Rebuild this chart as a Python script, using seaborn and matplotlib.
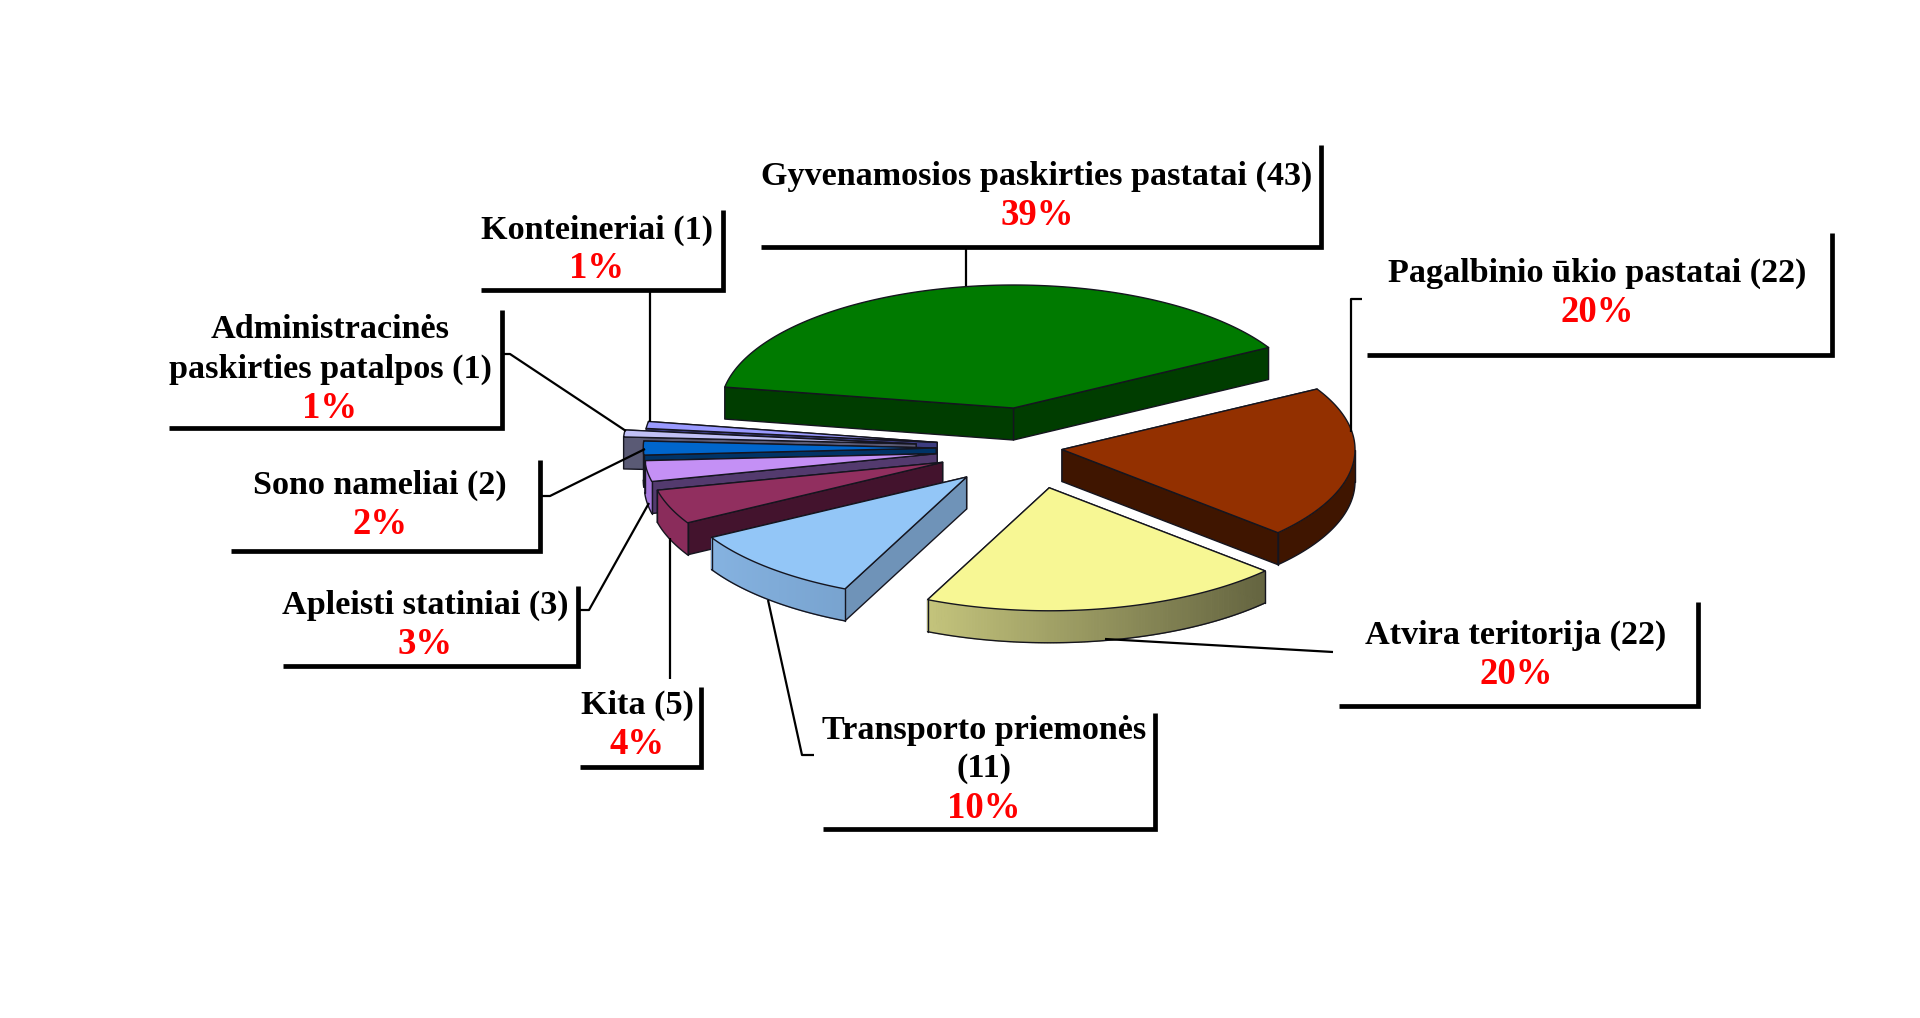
import numpy as np
import matplotlib
matplotlib.use("Agg")
import matplotlib.pyplot as plt
from matplotlib.patches import Polygon
from matplotlib.colors import to_rgb
import seaborn as sns

# ---- data ----
categories = ["Gyvenamosios paskirties pastatai (43)", "Pagalbinio ūkio pastatai (22)",
              "Atvira teritorija (22)", "Transporto priemonės\n(11)", "Kita (5)",
              "Apleisti statiniai (3)", "Sono nameliai (2)",
              "Administracinės\npaskirties patalpos (1)", "Konteineriai (1)"]
counts = [43, 22, 22, 11, 5, 3, 2, 1, 1]
percents = [39, 20, 20, 10, 4, 3, 2, 1, 1]
explode = [0.33, 0.11, 0.33, 0.32, 0.32, 0.32, 0.32, 0.39, 0.32]

# ---- styles ----
top_colors = ["#007a00", "#933000", "#f7f794", "#93c6f7", "#912f5f", "#c490f5", "#0066cc", "#c0c0f5", "#9a9aff"]
side_colors = ["#003d00", "#3f1500", "#7a7a45", "#6f93b8", "#43132d", "#533a6e", "#003366", "#5a5a75", "#3c3c80"]
rim_left = ["#003d00", "#3f1500", "#c4c47c", "#85b2e0", "#8a2c5b", "#a578dc", "#0066cc", "#5a5a75", "#3c3c80"]
rim_right = ["#003d00", "#3f1500", "#646440", "#78a3cf", "#8a2c5b", "#a578dc", "#0066cc", "#5a5a75", "#3c3c80"]
draw_order = [0, 8, 7, 6, 5, 4, 3, 1, 2]

# ---- layout in figure pixels ----
CX, CY, RX, RY, DEPTH, START = 1030, 448, 293, 123, 32, 170.2
label_boxes = [(761, 1321, 145, 247), (1367, 1832, 233, 355), (1339, 1698, 602, 706),
               (823, 1155, 713, 829), (580, 701, 687, 767), (283, 578, 586, 666),
               (231, 540, 460, 551), (169, 502, 310, 428), (481, 723, 210, 290)]
label_text_x = [1037, 1597, 1516, 984, 637, 425, 380, 330, 597]
label_text_y = [176, 273, 635, 730, 705, 605, 485, 330, 230]
leaders = [[(966, 248), (966, 286)],
           [(1362, 299), (1351, 299), (1351, 432)],
           [(1333, 652), (1105, 639)],
           [(814, 755), (802, 755), (768, 600)],
           [(670, 679), (670, 538)],
           [(578, 610), (589, 610), (649, 503)],
           [(540, 496), (550, 496), (645, 449)],
           [(502, 354), (510, 354), (626, 431)],
           [(650, 290), (650, 422)]]

sns.set_theme(style="white")
plt.rcParams["font.family"] = ["Liberation Serif", "DejaVu Sans"]
plt.rcParams["font.weight"] = "bold"
tops = sns.color_palette(top_colors)
sides = sns.color_palette(side_colors)

fig = plt.figure(figsize=(19.2, 10.18), dpi=100, facecolor="white")
ax = fig.add_axes([0, 0, 1, 1])
ax.set_xlim(0, 1920)
ax.set_ylim(1018, 0)
ax.set_axis_off()
EDGE = "#15151f"

fractions = np.array(counts) / sum(counts)
ends = START - 360 * np.cumsum(fractions)
starts = ends + 360 * fractions


def draw_slice(i):
    t0, t1 = starts[i], ends[i]
    mid = np.radians((t0 + t1) / 2)
    ax0 = CX + explode[i] * RX * np.cos(mid)
    ay0 = CY - explode[i] * RY * np.sin(mid)
    th = np.radians(np.linspace(t0, t1, 120))
    rx = ax0 + RX * np.cos(th)
    ry = ay0 - RY * np.sin(th)
    # radial walls, the farther one first
    walls = sorted([(rx[0], ry[0]), (rx[-1], ry[-1])], key=lambda p: p[1])
    for px, py in walls:
        ax.add_patch(Polygon([(ax0, ay0), (px, py), (px, py + DEPTH), (ax0, ay0 + DEPTH)],
                             closed=True, fc=sides[i], ec=EDGE, lw=1, joinstyle="round"))
    # outer rim wall where it faces the viewer
    front = np.sin(th) <= 0
    if front.sum() > 1:
        fx, fy = rx[front], ry[front]
        left, right = np.array(to_rgb(rim_left[i])), np.array(to_rgb(rim_right[i]))
        if rim_left[i] == rim_right[i]:
            ax.add_patch(Polygon(np.column_stack([np.r_[fx, fx[::-1]], np.r_[fy, fy[::-1] + DEPTH]]),
                                 closed=True, fc=left, ec="none"))
        else:
            span = max(fx.max() - fx.min(), 1)
            for k in range(len(fx) - 1):
                u = ((fx[k] + fx[k + 1]) / 2 - fx.min()) / span
                c = left + (right - left) * u
                ax.add_patch(Polygon([(fx[k], fy[k]), (fx[k + 1], fy[k + 1]),
                                      (fx[k + 1], fy[k + 1] + DEPTH), (fx[k], fy[k] + DEPTH)],
                                     closed=True, fc=c, ec=c, lw=0.8))
        ax.plot(fx, fy + DEPTH, color=EDGE, lw=1)
        ax.plot([fx[0], fx[0]], [fy[0], fy[0] + DEPTH], color=EDGE, lw=1)
        ax.plot([fx[-1], fx[-1]], [fy[-1], fy[-1] + DEPTH], color=EDGE, lw=1)
    # top face
    ax.add_patch(Polygon(np.column_stack([np.r_[ax0, rx], np.r_[ay0, ry]]),
                         closed=True, fc=tops[i], ec=EDGE, lw=1, joinstyle="round"))


for i in draw_order:
    draw_slice(i)

for pts in leaders:
    xs, ys = zip(*pts)
    ax.plot(xs, ys, color="black", lw=1.6, solid_capstyle="butt", zorder=5)

FS = 24.6
PCT_FS = 26.5
LINE = 39
for i, (name, pct) in enumerate(zip(categories, percents)):
    l, r, t, b = label_boxes[i]
    ax.plot([l, r, r], [b, b, t], color="black", lw=3.4, solid_joinstyle="miter",
            solid_capstyle="butt", zorder=6)
    y = label_text_y[i]
    for ln in name.split("\n"):
        ax.text(label_text_x[i], y, ln, ha="center", va="center", fontsize=FS,
                fontweight="bold", color="black", zorder=7)
        y += LINE
    ax.text(label_text_x[i], y, f"{pct}%", ha="center", va="center", fontsize=PCT_FS,
            fontweight="bold", color="#ff0000", zorder=7)

fig.savefig("out.png", dpi=100, facecolor="white")
